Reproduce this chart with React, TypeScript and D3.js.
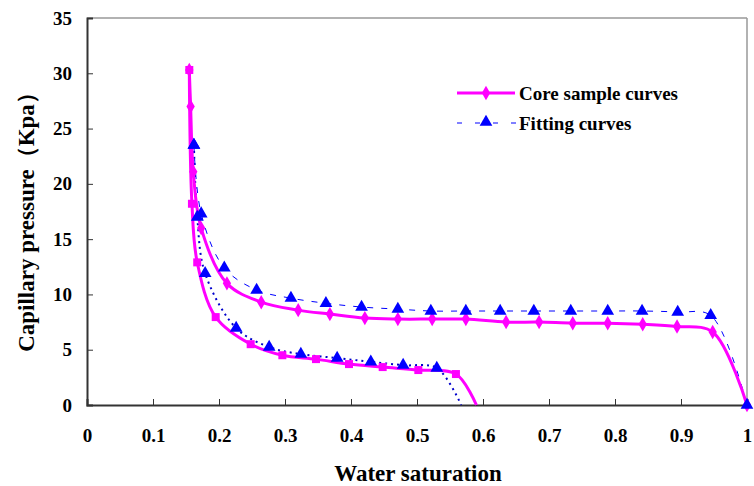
import React, { useRef, useEffect } from "react";
import * as d3 from "d3";

// [water saturation, capillary pressure]
const coreDrainage: [number, number][] = [
  [0.155, 30.3], [0.157, 27.0], [0.161, 21.1], [0.173, 16.0], [0.212, 11.0],
  [0.264, 9.3], [0.32, 8.58], [0.368, 8.22], [0.421, 7.86], [0.471, 7.77],
  [0.523, 7.77], [0.574, 7.77], [0.635, 7.5], [0.685, 7.5], [0.736, 7.4],
  [0.789, 7.4], [0.842, 7.3], [0.894, 7.1], [0.948, 6.6], [1.0, 0],
];
const coreImbibition: [number, number][] = [
  [0.155, 30.3], [0.159, 18.2], [0.167, 12.9], [0.195, 7.95], [0.248, 5.5],
  [0.296, 4.5], [0.347, 4.15], [0.397, 3.7], [0.448, 3.43], [0.502, 3.16],
  [0.559, 2.8], [0.59, 0],
];
const fitDrainage: [number, number][] = [
  [0.162, 23.5], [0.173, 17.3], [0.208, 12.4], [0.257, 10.4], [0.309, 9.66],
  [0.362, 9.2], [0.416, 8.86], [0.471, 8.67], [0.521, 8.5], [0.574, 8.5],
  [0.626, 8.5], [0.677, 8.5], [0.733, 8.5], [0.789, 8.5], [0.841, 8.5],
  [0.895, 8.4], [0.945, 8.1], [1.0, 0],
];
const fitImbibition: [number, number][] = [
  [0.162, 23.5], [0.167, 17.0], [0.179, 11.9], [0.226, 6.95], [0.276, 5.24],
  [0.324, 4.6], [0.379, 4.25], [0.43, 3.9], [0.479, 3.6], [0.53, 3.34],
  [0.567, 0],
];
const xTicks = [0, 0.1, 0.2, 0.3, 0.4, 0.5, 0.6, 0.7, 0.8, 0.9, 1];
const yTicks = [0, 5, 10, 15, 20, 25, 30, 35];

const MAGENTA = "#ff00ff";
const BLUE = "#0000ff";
const FONT = "'Liberation Serif', 'Times New Roman', serif";

const App = () => {
  const container = useRef<HTMLDivElement>(null);

  useEffect(() => {
    const width = 754;
    const height = 486;
    const m = { l: 87, r: 7, t: 18, b: 81 };

    const svg = d3
      .select(container.current)
      .selectAll("svg")
      .data([0])
      .join("svg")
      .attr("width", width)
      .attr("height", height)
      .style("display", "block")
      .style("overflow", "visible")
      .style("font-family", FONT);
    svg.selectAll("*").remove();

    const x = d3.scaleLinear().domain([0, 1]).range([m.l, width - m.r]);
    const y = d3.scaleLinear().domain([0, 35]).range([height - m.b, m.t]);

    // frame: top/right grey, left/bottom dark
    svg.append("line")
      .attr("x1", x(0)).attr("x2", x(1)).attr("y1", y(35)).attr("y2", y(35))
      .attr("stroke", "#999").attr("stroke-width", 1.5);
    svg.append("line")
      .attr("x1", x(1)).attr("x2", x(1)).attr("y1", y(35)).attr("y2", y(0))
      .attr("stroke", "#999").attr("stroke-width", 1.5);

    const xAxis = d3.axisBottom(x).tickValues(xTicks).tickSize(-6).tickFormat(d3.format("~g")).tickPadding(24);
    const yAxis = d3.axisLeft(y).tickValues(yTicks).tickSize(-6).tickPadding(15);

    const xg = svg.append("g").attr("transform", `translate(0,${y(0)})`).call(xAxis);
    const yg = svg.append("g").attr("transform", `translate(${x(0)},0)`).call(yAxis);
    [xg, yg].forEach((g) => {
      g.select(".domain").attr("stroke", "#333").attr("stroke-width", 2);
      g.selectAll(".tick line").attr("stroke", "#333").attr("stroke-width", 1);
      g.selectAll(".tick text")
        .attr("fill", "#000")
        .style("font-family", FONT)
        .style("font-weight", "bold")
        .style("font-size", "19px");
    });

    const line = d3
      .line<[number, number]>()
      .x((d) => x(d[0]))
      .y((d) => y(d[1]))
      .curve(d3.curveCatmullRom.alpha(0.5));

    const drawPath = (data: [number, number][], stroke: string, w: number, dash: string | null) => {
      svg.append("path")
        .datum(data)
        .attr("d", line)
        .attr("fill", "none")
        .attr("stroke", stroke)
        .attr("stroke-width", w)
        .attr("stroke-dasharray", dash);
    };

    drawPath(fitDrainage, BLUE, 1, "6,8");
    drawPath(fitImbibition, "#0000cc", 2, "2,4");
    drawPath(coreDrainage, MAGENTA, 3, null);
    drawPath(coreImbibition, MAGENTA, 3, null);

    const diamond = d3.symbol().type(d3.symbolDiamond).size(60);
    const square = d3.symbol().type(d3.symbolSquare).size(64);
    const triangle = d3.symbol().type(d3.symbolTriangle).size(70);

    const drawMarks = (data: [number, number][], sym: any, fill: string, cls: string) => {
      svg.selectAll("." + cls)
        .data(data)
        .join("path")
        .attr("class", cls)
        .attr("d", sym)
        .attr("transform", (d) => `translate(${x(d[0])},${y(d[1])})`)
        .attr("fill", fill);
    };

    drawMarks(coreDrainage, diamond, MAGENTA, "m-core-d");
    drawMarks(coreImbibition.slice(0, -1), square, MAGENTA, "m-core-i");
    drawMarks(fitDrainage, triangle, BLUE, "m-fit-d");
    drawMarks(fitImbibition.slice(0, -1), triangle, BLUE, "m-fit-i");

    // legend
    const lg = svg.append("g");
    lg.append("line").attr("x1", 457).attr("x2", 515).attr("y1", 93).attr("y2", 93)
      .attr("stroke", MAGENTA).attr("stroke-width", 3);
    lg.append("path").attr("d", diamond).attr("transform", "translate(486,93)").attr("fill", MAGENTA);
    lg.append("text").attr("x", 519).attr("y", 100).text("Core sample curves")
      .style("font-weight", "bold").style("font-size", "19px");
    lg.append("line").attr("x1", 457).attr("x2", 516).attr("y1", 123).attr("y2", 123)
      .attr("stroke", BLUE).attr("stroke-width", 1).attr("stroke-dasharray", "5,13");
    lg.append("path").attr("d", triangle).attr("transform", "translate(486,122)").attr("fill", BLUE);
    lg.append("text").attr("x", 519).attr("y", 130).text("Fitting curves")
      .style("font-weight", "bold").style("font-size", "19px");

    // axis titles
    svg.append("text")
      .attr("x", (x(0) + x(1)) / 2 + 1)
      .attr("y", 481)
      .attr("text-anchor", "middle")
      .style("font-weight", "bold")
      .style("font-size", "23px")
      .text("Water saturation");
    svg.append("text")
      .attr("transform", `translate(34,${(y(0) + y(35)) / 2 + 5}) rotate(-90)`)
      .attr("text-anchor", "middle")
      .style("font-weight", "bold")
      .style("font-size", "23px")
      .text("Capillary pressure（Kpa）");
  });

  return (
    <div
      ref={container}
      style={{ position: "fixed", left: 0, top: 0, width: 754, height: 486, background: "#fff" }}
    ></div>
  );
};

export default App;
